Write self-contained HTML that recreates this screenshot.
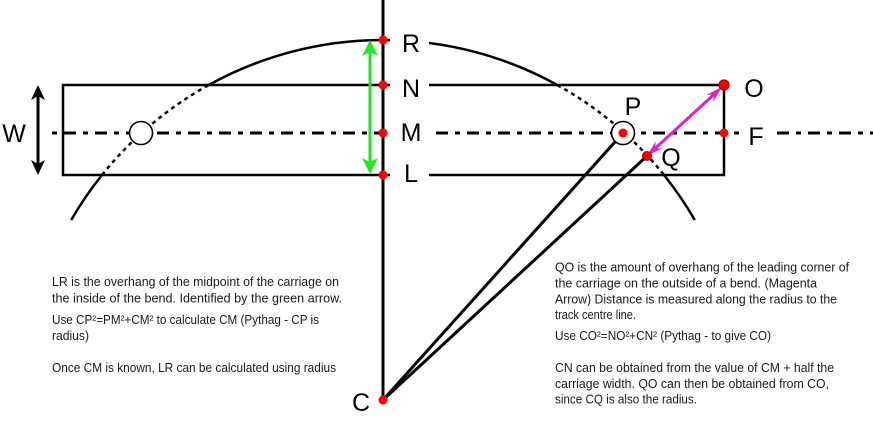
<!DOCTYPE html>
<html>
<head>
<meta charset="utf-8">
<style>
  html, body { margin: 0; padding: 0; background: #fff; }
  svg { display: block; }
  .t { font-family: "Liberation Sans", sans-serif; font-size: 13px; fill: #1a1a1a; }
  .lbl { font-family: "Liberation Sans", sans-serif; font-size: 25px; fill: #000; }
</style>
</head>
<body>
<svg width="873" height="421" viewBox="0 0 873 421" xmlns="http://www.w3.org/2000/svg">
  <rect x="0" y="0" width="873" height="421" fill="#fff"/>

  <!-- centre dash-dot line -->
  <line x1="52" y1="133" x2="873" y2="133" stroke="#000" stroke-width="3" stroke-dasharray="5 7 12 7"/>

  <!-- carriage rectangle -->
  <rect x="63" y="85" width="661" height="90" fill="none" stroke="#000" stroke-width="2.5"/>

  <!-- arc (radius 360 about C) -->
  <path d="M 71.2 220 A 360 360 0 0 1 102 175" fill="none" stroke="#000" stroke-width="2.5"/>
  <path d="M 102 175 A 360 360 0 0 1 208.7 85" fill="none" stroke="#000" stroke-width="2.5" stroke-dasharray="4 4"/>
  <path d="M 208.7 85 A 360 360 0 0 1 557.3 85" fill="none" stroke="#000" stroke-width="2.5"/>
  <path d="M 557.3 85 A 360 360 0 0 1 664 175" fill="none" stroke="#000" stroke-width="2.5" stroke-dasharray="4 4"/>
  <path d="M 664 175 A 360 360 0 0 1 694.8 220" fill="none" stroke="#000" stroke-width="2.5"/>

  <!-- vertical line -->
  <line x1="383" y1="0" x2="383" y2="400" stroke="#000" stroke-width="3"/>

  <!-- radius lines from C -->
  <line x1="383" y1="400" x2="615.6" y2="141.2" stroke="#000" stroke-width="3"/>
  <line x1="383" y1="400" x2="647" y2="156" stroke="#000" stroke-width="3"/>

  <!-- white masks behind labels -->
  <rect x="390" y="28" width="39" height="157" fill="#fff"/>
  <rect x="740" y="120" width="32" height="28" fill="#fff"/>

  <!-- wheel circles -->
  <circle cx="141" cy="133" r="11.5" fill="#fff" stroke="#000" stroke-width="1.6"/>
  <circle cx="623" cy="133" r="11.5" fill="#fff" stroke="#000" stroke-width="1.6"/>

  <!-- W double arrow -->
  <line x1="38" y1="95" x2="38" y2="165" stroke="#000" stroke-width="3"/>
  <polygon points="38,85 31,100 38,96 45,100" fill="#000"/>
  <polygon points="38,175 31,160 38,164 45,160" fill="#000"/>

  <!-- green arrow -->
  <line x1="370" y1="50" x2="370" y2="164" stroke="#22e622" stroke-width="3"/>
  <polygon points="370,40 362,56 370,52 378,56" fill="#22e622"/>
  <polygon points="370,174 362,158 370,162 378,158" fill="#22e622"/>

  <!-- magenta arrow -->
  <line x1="654" y1="149.5" x2="715" y2="93.5" stroke="#dd22cc" stroke-width="3"/>
  <polygon points="722,87 713.2,101.9 714,94.5 706.6,94.7" fill="#dd22cc"/>
  <polygon points="647,156 655.8,141.1 655,148.5 662.4,148.3" fill="#dd22cc"/>

  <!-- red dots -->
  <circle cx="383" cy="40" r="4.5" fill="#ff0000"/>
  <circle cx="383" cy="85" r="4.5" fill="#ff0000"/>
  <circle cx="383" cy="133" r="4.5" fill="#ff0000"/>
  <circle cx="383" cy="175" r="4.5" fill="#ff0000"/>
  <circle cx="383" cy="400" r="4.5" fill="#ff0000"/>
  <circle cx="623" cy="133" r="4.5" fill="#ff0000"/>
  <circle cx="724" cy="133" r="4.5" fill="#ff0000"/>
  <circle cx="647" cy="156" r="4.5" fill="#ff0000" stroke="#b00000" stroke-width="1"/>
  <circle cx="724" cy="85" r="5" fill="#ff0000" stroke="#b00000" stroke-width="1.2"/>

  <!-- big labels -->
  <text class="lbl" x="411" y="52" text-anchor="middle">R</text>
  <text class="lbl" x="411" y="97" text-anchor="middle">N</text>
  <text class="lbl" x="411" y="141" text-anchor="middle">M</text>
  <text class="lbl" x="411" y="182" text-anchor="middle">L</text>
  <text class="lbl" x="14" y="142" text-anchor="middle">W</text>
  <text class="lbl" x="754" y="97" text-anchor="middle">O</text>
  <text class="lbl" x="633" y="115" text-anchor="middle">P</text>
  <text class="lbl" x="756" y="145" text-anchor="middle">F</text>
  <text class="lbl" x="671" y="166" text-anchor="middle">Q</text>
  <text class="lbl" x="361" y="411" text-anchor="middle">C</text>

  <!-- left text block -->
  <text class="t" x="52" y="286" textLength="287" lengthAdjust="spacingAndGlyphs">LR is the overhang of the  midpoint of the carriage on</text>
  <text class="t" x="52" y="302.5" textLength="290" lengthAdjust="spacingAndGlyphs">the inside of the bend.  Identified by the green arrow.</text>
  <text class="t" x="52" y="324" textLength="267" lengthAdjust="spacingAndGlyphs">Use CP²=PM²+CM² to calculate CM (Pythag - CP is</text>
  <text class="t" x="52" y="340" textLength="37" lengthAdjust="spacingAndGlyphs">radius)</text>
  <text class="t" x="52" y="372" textLength="284" lengthAdjust="spacingAndGlyphs">Once CM is known, LR can be calculated using radius</text>

  <!-- right text block -->
  <text class="t" x="555" y="271.5" textLength="294" lengthAdjust="spacingAndGlyphs">QO is the amount of overhang of the leading corner of</text>
  <text class="t" x="555" y="287.5" textLength="262" lengthAdjust="spacingAndGlyphs">the carriage on the outside of a bend.  (Magenta</text>
  <text class="t" x="555" y="303.5" textLength="282" lengthAdjust="spacingAndGlyphs">Arrow) Distance is measured along the radius to the</text>
  <text class="t" x="555" y="319" textLength="81" lengthAdjust="spacingAndGlyphs">track centre line.</text>
  <text class="t" x="555" y="340" textLength="216" lengthAdjust="spacingAndGlyphs">Use CO²=NO²+CN²  (Pythag - to give CO)</text>
  <text class="t" x="555" y="372" textLength="279" lengthAdjust="spacingAndGlyphs">CN can be obtained from the value of CM + half the</text>
  <text class="t" x="555" y="388" textLength="274" lengthAdjust="spacingAndGlyphs">carriage width.  QO can then be obtained from CO,</text>
  <text class="t" x="555" y="403.5" textLength="142" lengthAdjust="spacingAndGlyphs">since CQ is also the radius.</text>
</svg>
</body>
</html>
